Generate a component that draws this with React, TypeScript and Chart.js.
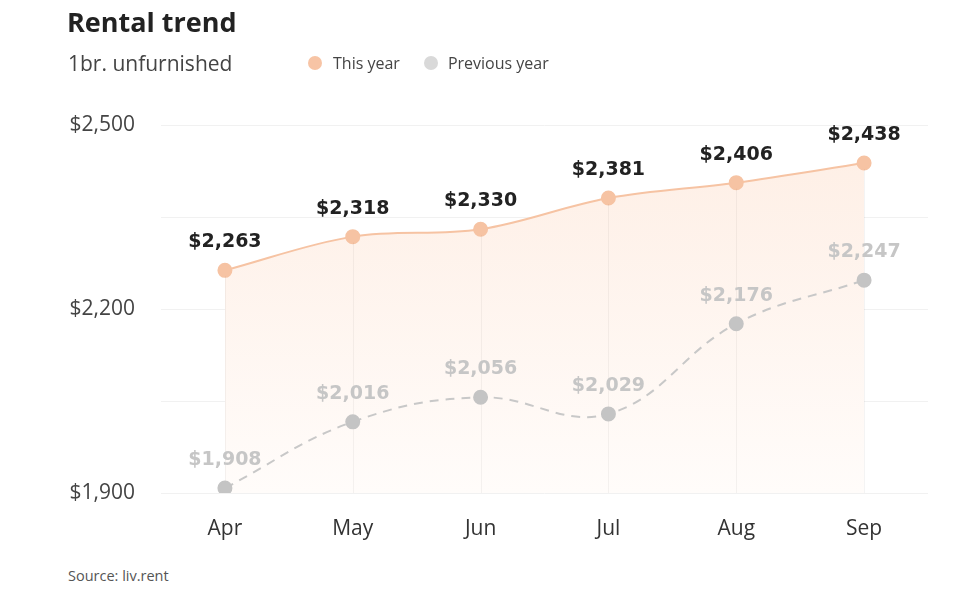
import React, { useEffect, useRef } from 'react';
import { Chart, registerables } from 'chart.js';

Chart.register(...registerables);

const months = ['Apr', 'May', 'Jun', 'Jul', 'Aug', 'Sep'];
const thisYear = [2263, 2318, 2330, 2381, 2406, 2438];
const previousYear = [1908, 2016, 2056, 2029, 2176, 2247];
const yMin = 1900;
const yMax = 2500;
const yGridStep = 150;
const yLabelStep = 300;

const fmt = (v: number) => '$' + v.toLocaleString('en-US');

const PEACH = '#f6c3a3';
const GREY = '#c4c4c4';

const dropLines = {
  id: 'dropLines',
  beforeDatasetDraw(chart: any, args: any) {
    if (args.index !== 1) return;
    const meta = chart.getDatasetMeta(0);
    const ctx = chart.ctx;
    const bottom = chart.chartArea.bottom;
    ctx.save();
    ctx.strokeStyle = 'rgba(0,0,0,0.045)';
    ctx.lineWidth = 1;
    meta.data.forEach((pt: any) => {
      const x = Math.round(pt.x) + 0.5;
      ctx.beginPath();
      ctx.moveTo(x, pt.y + 6);
      ctx.lineTo(x, bottom);
      ctx.stroke();
    });
    ctx.restore();
  },
};

const valueLabels = {
  id: 'valueLabels',
  afterDatasetsDraw(chart: any) {
    const ctx = chart.ctx;
    chart.data.datasets.forEach((ds: any, i: number) => {
      const meta = chart.getDatasetMeta(i);
      ctx.save();
      ctx.font = 'bold 19px "DejaVu Sans"';
      ctx.fillStyle = i === 0 ? '#222222' : '#c6c6c6';
      ctx.textAlign = 'center';
      ctx.textBaseline = 'middle';
      meta.data.forEach((pt: any, j: number) => {
        ctx.fillText(fmt(ds.data[j]), pt.x, pt.y - 28);
      });
      ctx.restore();
    });
  },
};

export default function App() {
  const ref = useRef<HTMLCanvasElement>(null);

  useEffect(() => {
    document.body.style.margin = '0';
    const canvas = ref.current!;
    const chart = new Chart(canvas, {
      type: 'line',
      data: {
        labels: months,
        datasets: [
          {
            label: 'This year',
            data: thisYear,
            borderColor: PEACH,
            borderWidth: 2,
            pointBackgroundColor: PEACH,
            pointBorderColor: PEACH,
            pointRadius: 6.5,
            tension: 0.35,
            order: 1,
            fill: 'start',
            backgroundColor: (c: any) => {
              const area = c.chart.chartArea;
              if (!area) return 'rgba(254,238,228,1)';
              const g = c.chart.ctx.createLinearGradient(0, area.top, 0, area.bottom);
              g.addColorStop(0, 'rgb(254,238,228)');
              g.addColorStop(1, 'rgb(255,252,250)');
              return g;
            },
          },
          {
            label: 'Previous year',
            data: previousYear,
            borderColor: '#c8c8c8',
            borderWidth: 2,
            borderDash: [9, 7],
            pointBackgroundColor: GREY,
            pointBorderColor: GREY,
            pointRadius: 6.5,
            tension: 0.4,
            order: 0,
            fill: false,
          },
        ],
      },
      options: {
        responsive: false,
        animation: false,
        devicePixelRatio: 1,
        layout: { padding: { top: 125, right: 32, left: 0, bottom: 0 } },
        plugins: {
          legend: { display: false },
          tooltip: { enabled: false },
          title: { display: false },
        },
        scales: {
          x: {
            offset: true,
            grid: { display: false, drawTicks: false },
            border: { display: false },
            ticks: {
              color: '#333333',
              font: { family: '"Open Sans"', size: 21 },
              padding: 23,
            },
            afterFit: (s: any) => {
              s.height = 67;
            },
          },
          y: {
            min: yMin,
            max: yMax,
            grid: { color: '#f1f1f1', drawTicks: false, lineWidth: 1 },
            border: { display: false },
            ticks: {
              stepSize: yGridStep,
              color: '#444444',
              font: { family: '"Open Sans"', size: 21 },
              padding: 26,
              callback: (v: any) => ((v - yMin) % yLabelStep === 0 ? fmt(v) : ''),
            },
            afterFit: (s: any) => {
              s.width = 161;
            },
          },
        },
      },
      plugins: [dropLines, valueLabels],
    });
    return () => chart.destroy();
  }, []);

  const font = '"Open Sans", sans-serif';
  return (
    <div style={{ position: 'relative', width: 960, height: 607, background: '#fff', fontFamily: font, overflow: 'hidden' }}>
      <canvas ref={ref} width={960} height={560} style={{ position: 'absolute', left: 0, top: 0, width: 960, height: 560 }} />
      <div style={{ position: 'absolute', left: 67, top: 2, fontSize: 27, fontWeight: 700, color: '#222', lineHeight: '40px' }}>
        Rental trend
      </div>
      <div style={{ position: 'absolute', left: 68, top: 48, fontSize: 21, color: '#444', lineHeight: '30px' }}>1br. unfurnished</div>
      <div style={{ position: 'absolute', left: 308, top: 52, display: 'flex', alignItems: 'center', fontSize: 16, color: '#444', lineHeight: '22px' }}>
        <span style={{ width: 14, height: 14, borderRadius: 7, background: '#f7c4a5', display: 'inline-block', marginRight: 11 }} />
        <span>This year</span>
        <span style={{ width: 14, height: 14, borderRadius: 7, background: '#d9d9d9', display: 'inline-block', marginLeft: 24, marginRight: 10 }} />
        <span>Previous year</span>
      </div>
      <div style={{ position: 'absolute', left: 68, top: 566, fontSize: 14.5, color: '#555', lineHeight: '20px' }}>Source: liv.rent</div>
    </div>
  );
}
